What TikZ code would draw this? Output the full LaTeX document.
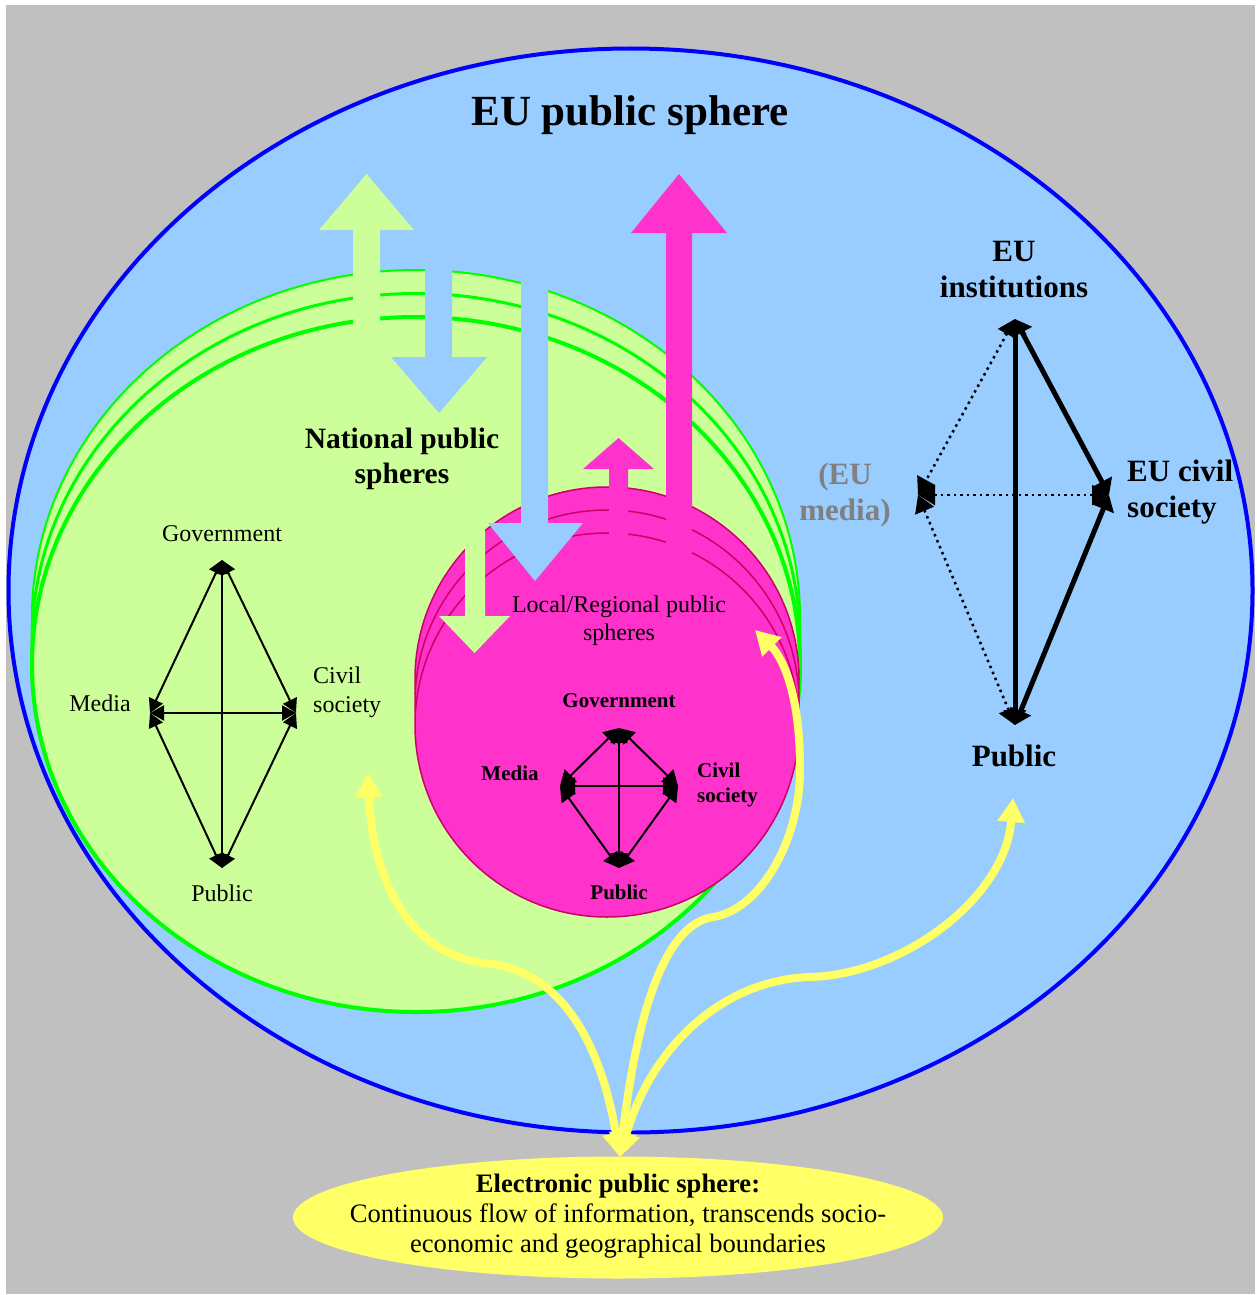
\documentclass[tikz,border=0pt]{standalone}
\usepackage{fontspec}
\setmainfont{Liberation Serif}
\usetikzlibrary{arrows.meta}
\definecolor{bggray}{HTML}{C0C0C0}
\definecolor{skyfill}{HTML}{99CCFF}
\definecolor{euline}{HTML}{0000FF}
\definecolor{natfill}{HTML}{CCFF99}
\definecolor{natline}{HTML}{00FF00}
\definecolor{locfill}{HTML}{FF33CC}
\definecolor{locline}{HTML}{CC0066}
\definecolor{elecfill}{HTML}{FFFF66}
\definecolor{medgray}{HTML}{808080}
\tikzset{
  lbl/.style={inner sep=0pt, align=center},
  titlefont/.style={font=\fontsize{43}{49}\selectfont\bfseries},
  natfont/.style={font=\fontsize{29.5}{35}\selectfont\bfseries},
  locfont/.style={font=\fontsize{24}{28}\selectfont},
  gfont/.style={font=\fontsize{24}{29}\selectfont},
  mfont/.style={font=\fontsize{21}{25}\selectfont\bfseries},
  eufont/.style={font=\fontsize{31}{36}\selectfont\bfseries},
  elfont/.style={font=\fontsize{26.6}{30}\selectfont},
  natring/.style={fill=natfill, draw=natline},
  locring/.style={fill=locfill, draw=locline, line width=1.5pt},
  glink/.style={line width=2pt, {Triangle[length=14pt,width=15pt]}-{Triangle[length=14pt,width=15pt]}},
  mlink/.style={line width=2pt, {Triangle[length=15pt,width=17pt]}-{Triangle[length=15pt,width=17pt]}},
  eusolid/.style={line width=5pt, {Triangle[length=15pt,width=22pt]}-{Triangle[length=15pt,width=22pt]}},
  eudot/.style={line width=2.5pt, dash pattern=on 2.5pt off 4pt, {Triangle[length=17pt,width=20pt]}-{Triangle[length=17pt,width=20pt]}},
  yflow/.style={draw=elecfill, line width=8pt, {Triangle[length=24pt,width=26pt]}-{Triangle[length=24pt,width=26pt]}, color=elecfill}
}
\begin{document}
\begin{tikzpicture}[x=1pt,y=-1pt]
\useasboundingbox (0,0) rectangle (1257,1295);
\fill[bggray] (6,5) rectangle (1255,1294);
% EU public sphere
\filldraw[fill=skyfill, draw=euline, line width=4pt] (630.5,590.5) ellipse [x radius=622, y radius=542];
% national spheres
\filldraw[natring, line width=2pt] (416,617.5) ellipse [x radius=384, y radius=347.5];
\filldraw[natring, line width=3pt] (416,641) ellipse [x radius=384, y radius=347.5];
\filldraw[natring, line width=4pt] (416,664.5) ellipse [x radius=384, y radius=347.5];
% local spheres
\filldraw[locring] (607,679) circle [radius=192];
\filldraw[locring] (607,702) circle [radius=192];
\filldraw[locring] (607,725) circle [radius=192];
% block arrows
\fill[natfill] (353,340) -- (353,230) -- (319,230) -- (366.5,174) -- (414,230) -- (380,230) -- (380,340) -- cycle;
\fill[skyfill] (425,255) -- (425,357) -- (391,357) -- (439,413) -- (487,357) -- (452,357) -- (452,255) -- cycle;
\fill[skyfill] (521,270) -- (521,523) -- (488,523) -- (535,581) -- (583,523) -- (548,523) -- (548,270) -- cycle;
\fill[locfill] (666,560) -- (666,233) -- (631,233) -- (679,174) -- (727,233) -- (692,233) -- (692,560) -- cycle;
\fill[locfill] (609,560) -- (609,469) -- (583,469) -- (618.5,438) -- (654,469) -- (628,469) -- (628,560) -- cycle;
\fill[natfill] (465,520) -- (465,616) -- (439,616) -- (474.5,653) -- (510,616) -- (485,616) -- (485,520) -- cycle;
% titles
\node[lbl, titlefont] (title) at (630,115) {EU public sphere};
\node[lbl, natfont] (natl) at (402,459) {National public\\spheres};
\node[lbl, locfont] (local) at (619,621) {Local/Regional public\\spheres};
% national diamond
\coordinate (gT) at (222,560);
\coordinate (gL) at (150,713);
\coordinate (gR) at (296,713);
\coordinate (gB) at (222,868);
\node[lbl, gfont] (gGov) at (222,534) {Government};
\node[lbl, gfont] (gMed) at (100,703) {Media};
\node[lbl, gfont, align=left, anchor=west] (gCiv) at (313,692) {Civil\\society};
\node[lbl, gfont] (gPub) at (222,893) {Public};
\draw[glink] (gT) -- (gL);
\draw[glink] (gT) -- (gR);
\draw[glink] (gT) -- (gB);
\draw[glink] (gL) -- (gR);
\draw[glink] (gL) -- (gB);
\draw[glink] (gR) -- (gB);
% local diamond
\coordinate (mT) at (619,728);
\coordinate (mL) at (560,786);
\coordinate (mR) at (678,786);
\coordinate (mB) at (619,868);
\node[lbl, mfont] (mGov) at (619,701) {Government};
\node[lbl, mfont] (mMed) at (510,773) {Media};
\node[lbl, mfont, align=left, anchor=west] (mCiv) at (697,785) {Civil\\society};
\node[lbl, mfont] (mPub) at (619,892) {Public};
\draw[mlink] (mT) -- (mL);
\draw[mlink] (mT) -- (mR);
\draw[mlink] (mT) -- (mB);
\draw[mlink] (mL) -- (mR);
\draw[mlink] (mL) -- (mB);
\draw[mlink] (mR) -- (mB);
% EU diamond
\coordinate (eT) at (1015,319);
\coordinate (eL) at (918,495);
\coordinate (eR) at (1109,495);
\coordinate (eB) at (1015,725);
\node[lbl, eufont] (eInst) at (1014,270) {EU\\institutions};
\node[lbl, eufont, align=left, anchor=west] (eCiv) at (1127,492) {EU civil\\society};
\node[lbl, eufont, text=medgray] (eMed) at (845,495) {(EU\\media)};
\node[lbl, eufont] (ePub) at (1014,756) {Public};
\draw[eudot] (eT) -- (eL);
\draw[eudot] (eL) -- (eR);
\draw[eudot] (eL) -- (eB);
\draw[eusolid] (eT) -- (eB);
\draw[eusolid] (eT) -- (eR);
\draw[eusolid] (eR) -- (eB);
% electronic sphere
\fill[elecfill] (618,1217.5) ellipse [x radius=325, y radius=61];
\node[lbl, elfont] (elec) at (618,1216) {\textbf{Electronic public sphere:}\\Continuous flow of information, transcends socio-\\economic and geographical boundaries};
\coordinate (eps) at (620,1157);
\coordinate (toNat) at (368,773);
\coordinate (toLoc) at (755,630);
\coordinate (toEU) at (1013,798);
\draw[yflow] (eps) .. controls (600,1040) and (560,970) .. (485,963) .. controls (410,955) and (372,880) .. (toNat);
\draw[yflow] (eps) .. controls (635,1030) and (660,925) .. (713,917) .. controls (760,910) and (801,840) .. (800,767) .. controls (800,700) and (785,660) .. (toLoc);
\draw[yflow] (eps) .. controls (650,1050) and (720,980) .. (810,977) .. controls (900,975) and (1005,900) .. (toEU);
\end{tikzpicture}
\end{document}
